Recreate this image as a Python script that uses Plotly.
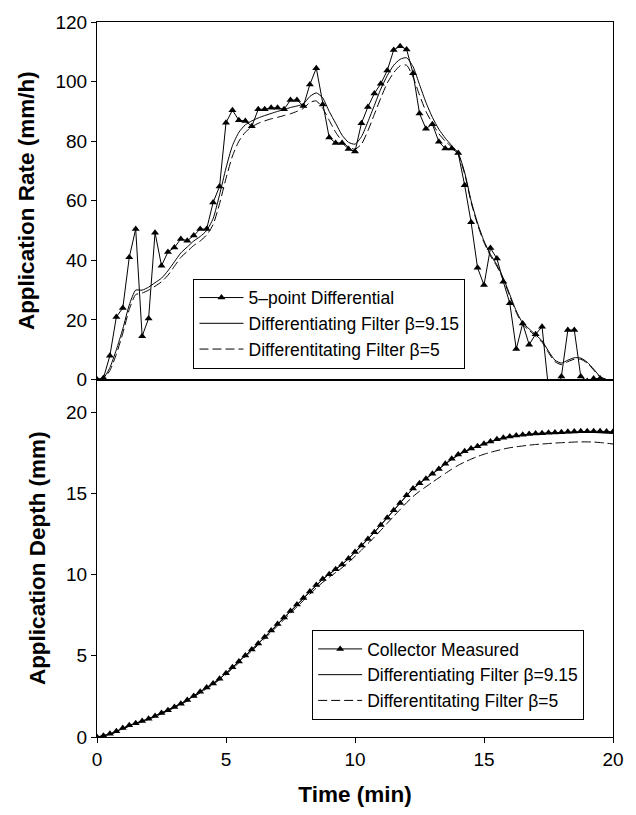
import plotly.graph_objects as go

# ---------------- data ----------------
time_min = [0.0, 0.25, 0.5, 0.75, 1.0, 1.25, 1.5, 1.75, 2.0, 2.25, 2.5, 2.75, 3.0, 3.25, 3.5, 3.75,
            4.0, 4.25, 4.5, 4.75, 5.0, 5.25, 5.5, 5.75, 6.0, 6.25, 6.5, 6.75, 7.0, 7.25, 7.5, 7.75,
            8.0, 8.25, 8.5, 8.75, 9.0, 9.25, 9.5, 9.75, 10.0, 10.25, 10.5, 10.75, 11.0, 11.25, 11.5, 11.75,
            12.0, 12.25, 12.5, 12.75, 13.0, 13.25, 13.5, 13.75, 14.0, 14.25, 14.5, 14.75, 15.0, 15.25, 15.5, 15.75,
            16.0, 16.25, 16.5, 16.75, 17.0, 17.25, 17.5, 17.75, 18.0, 18.25, 18.5, 18.75, 19.0, 19.25, 19.5, 19.75, 20.0]

# Application rate (mm/h)
rate_5pt = [0, 0.5, 8, 21, 24, 41, 50.5, 14.5, 20.5, 49.3, 38.2, 42.8, 44.3, 47.2, 46.6, 48.3,
            50.5, 50.5, 59.4, 64.8, 86.2, 90.4, 87, 86.8, 85, 90.7, 90.7, 91.2, 91.2, 90.7, 93.8, 93.8,
            91.8, 99, 104.5, 92.3, 81.2, 79.4, 79.4, 77.4, 76.5, 86, 91.5, 96, 99.3, 103.7, 110.6, 111.9,
            110.8, 102.8, 89.3, 84.2, 85.7, 79.8, 77.5, 77.5, 76, 65.2, 52.8, 37.5, 31.7, 44.1, 40.6, 32.8,
            25.6, 10.2, 18.8, 11.7, 15.2, 17.7, -3, -6, 1.0, 16.6, 16.6, 1.0, -0.5, 0.3, 0.3, -1, -1]

rate_f915 = [0, 0.5, 4, 10, 17, 25, 30, 30, 31, 32.5, 34, 36.5, 39.5, 42.5, 44.5, 46.5,
             48, 50, 54, 62, 71, 78.5, 83, 85.5, 86.8, 87.8, 88.6, 89.3, 90, 90.6, 91.3, 91.8,
             92.5, 95, 96.2, 94.5, 90, 86, 82, 79.6, 79, 81.5, 86.5, 92, 97.5, 102, 105.5, 107.5,
             108, 105, 99, 93, 88, 84, 81, 78.5, 76, 69.5, 60, 52.5, 46.5, 42, 38.5, 34,
             28.5, 23, 19, 17, 15, 13, 9.5, 6.5, 5.5, 6.5, 7.3, 7.2, 5.8, 3.5, 1, 0, 0]

rate_f5 = [0, 0.3, 3, 8.5, 15.5, 23.5, 28.5, 29, 30, 31.3, 32.8, 35, 38, 41, 43, 45,
           46.5, 48.5, 52, 59, 67.5, 75, 80, 83, 84.8, 86, 86.8, 87.5, 88, 88.6, 89.2, 90,
           91, 93, 93.5, 91, 87, 83, 80, 78, 77.3, 79, 83.5, 89, 94.5, 99.5, 103, 105.3,
           105.5, 101.5, 95.5, 90, 86, 82.5, 80, 78, 75.5, 69, 59.5, 52, 46, 41.5, 38, 33.5,
           28, 22.5, 18.5, 16.5, 14.5, 12.5, 9, 6, 5, 6, 6.8, 6.8, 5.5, 3.2, 0.8, 0, 0]

# Application depth (mm)
depth_meas = [0.00, 0.08, 0.20, 0.35, 0.55, 0.72, 0.85, 0.98, 1.12, 1.30, 1.48, 1.65, 1.85, 2.05, 2.28, 2.52,
              2.78, 3.05, 3.30, 3.58, 3.92, 4.30, 4.65, 5.02, 5.38, 5.75, 6.15, 6.55, 6.95, 7.35, 7.75, 8.15,
              8.55, 8.95, 9.35, 9.72, 10.02, 10.32, 10.62, 10.98, 11.38, 11.78, 12.18, 12.60, 13.05, 13.50, 13.95, 14.40,
              14.88, 15.30, 15.62, 15.90, 16.20, 16.50, 16.82, 17.12, 17.38, 17.58, 17.75, 17.90, 18.05, 18.18, 18.32, 18.42,
              18.50, 18.55, 18.60, 18.64, 18.68, 18.70, 18.72, 18.74, 18.76, 18.78, 18.80, 18.82, 18.82, 18.82, 18.81, 18.80, 18.78]

depth_f915 = [0.00, 0.05, 0.17, 0.33, 0.52, 0.70, 0.84, 0.98, 1.12, 1.29, 1.47, 1.65, 1.85, 2.05, 2.27, 2.51,
              2.77, 3.04, 3.30, 3.58, 3.92, 4.29, 4.65, 5.02, 5.38, 5.75, 6.14, 6.54, 6.94, 7.34, 7.74, 8.14,
              8.54, 8.94, 9.33, 9.70, 10.02, 10.32, 10.62, 10.97, 11.36, 11.76, 12.17, 12.60, 13.04, 13.49, 13.94, 14.40,
              14.86, 15.27, 15.60, 15.89, 16.19, 16.49, 16.80, 17.08, 17.33, 17.54, 17.72, 17.88, 18.02, 18.15, 18.28, 18.38,
              18.46, 18.52, 18.57, 18.61, 18.64, 18.66, 18.68, 18.70, 18.71, 18.72, 18.73, 18.74, 18.74, 18.74, 18.72, 18.70, 18.68]

depth_f5 = [0.00, 0.04, 0.15, 0.30, 0.48, 0.66, 0.80, 0.94, 1.08, 1.25, 1.43, 1.61, 1.80, 2.00, 2.22, 2.46,
            2.72, 2.98, 3.24, 3.52, 3.85, 4.21, 4.57, 4.94, 5.30, 5.67, 6.05, 6.45, 6.84, 7.23, 7.62, 8.01,
            8.40, 8.79, 9.17, 9.52, 9.83, 10.12, 10.42, 10.76, 11.12, 11.50, 11.90, 12.30, 12.72, 13.15, 13.58, 14.00,
            14.42, 14.80, 15.12, 15.40, 15.68, 15.95, 16.22, 16.48, 16.72, 16.92, 17.10, 17.26, 17.40, 17.52, 17.62, 17.72,
            17.80, 17.86, 17.91, 17.96, 18.00, 18.03, 18.06, 18.09, 18.11, 18.13, 18.15, 18.16, 18.16, 18.15, 18.12, 18.08, 18.03]

rate_ticks = [0, 20, 40, 60, 80, 100, 120]
depth_ticks = [0, 5, 10, 15, 20]
time_ticks = [0, 5, 10, 15, 20]

FONT = "Liberation Sans, Arial, sans-serif"
DASH = "9px,4px"

fig = go.Figure()

# top panel
fig.add_trace(go.Scatter(x=time_min, y=rate_5pt, mode="lines+markers", name="5\u2013point Differential",
                         line=dict(color="black", width=1),
                         marker=dict(symbol="triangle-up", size=7, color="black"),
                         xaxis="x", yaxis="y", legend="legend"))
fig.add_trace(go.Scatter(x=time_min, y=rate_f915, mode="lines", name="Differentiating Filter \u03b2=9.15",
                         line=dict(color="black", width=1, shape="spline", smoothing=0.6),
                         xaxis="x", yaxis="y", legend="legend"))
fig.add_trace(go.Scatter(x=time_min, y=rate_f5, mode="lines", name="Differentitating Filter \u03b2=5",
                         line=dict(color="black", width=1, dash=DASH, shape="spline", smoothing=0.6),
                         xaxis="x", yaxis="y", legend="legend"))

# bottom panel
fig.add_trace(go.Scatter(x=time_min, y=depth_meas, mode="lines+markers", name="Collector Measured",
                         line=dict(color="black", width=1),
                         marker=dict(symbol="triangle-up", size=7, color="black"),
                         xaxis="x2", yaxis="y2", legend="legend2"))
fig.add_trace(go.Scatter(x=time_min, y=depth_f915, mode="lines", name="Differentiating Filter \u03b2=9.15",
                         line=dict(color="black", width=1, shape="spline", smoothing=0.6),
                         xaxis="x2", yaxis="y2", legend="legend2"))
fig.add_trace(go.Scatter(x=time_min, y=depth_f5, mode="lines", name="Differentitating Filter \u03b2=5",
                         line=dict(color="black", width=1, dash=DASH, shape="spline", smoothing=0.6),
                         xaxis="x2", yaxis="y2", legend="legend2"))

axis_common = dict(showline=True, linecolor="black", linewidth=1, mirror=True,
                   showgrid=False, zeroline=False,
                   tickfont=dict(family=FONT, size=19, color="black"))

legend_common = dict(bgcolor="white", bordercolor="black", borderwidth=1,
                     font=dict(family=FONT, size=17.5, color="black"),
                     xanchor="left", yanchor="top", tracegroupgap=0, itemwidth=44)

title_font = dict(family=FONT, size=22.5, color="black", weight="bold")

fig.update_layout(
    width=636, height=815,
    margin=dict(l=97, r=21, t=15, b=78),
    paper_bgcolor="white", plot_bgcolor="white",
    font=dict(family=FONT, color="black"),
    xaxis=dict(domain=[0, 1], anchor="y", range=[0, 20], showticklabels=False, ticks="", **axis_common),
    yaxis=dict(domain=[0.5, 1], anchor="x", range=[0, 120], tickvals=rate_ticks,
               ticks="outside", ticklen=5, tickcolor="black",
               title=dict(text="Application Rate (mm/h)", standoff=14, font=title_font),
               **axis_common),
    xaxis2=dict(domain=[0, 1], anchor="y2", range=[0, 20], tickvals=time_ticks,
                ticks="outside", ticklen=5, tickcolor="black",
                title=dict(text="Time (min)", standoff=17, font=title_font),
                **axis_common),
    yaxis2=dict(domain=[0, 0.5], anchor="x2", range=[0, 22], tickvals=depth_ticks,
                ticks="outside", ticklen=5, tickcolor="black",
                title=dict(text="Application Depth (mm)", standoff=14, font=title_font),
                **axis_common),
    legend=dict(x=0.187, y=0.641, **legend_common),
    legend2=dict(x=0.417, y=0.1496, **legend_common),
)

fig.write_html("out.html")
